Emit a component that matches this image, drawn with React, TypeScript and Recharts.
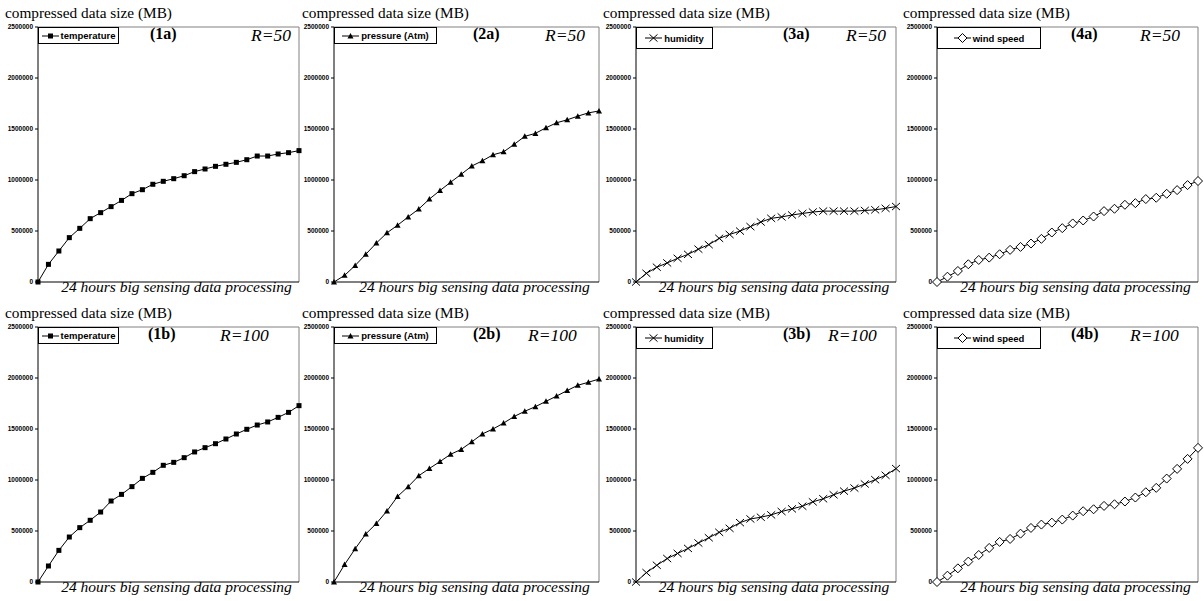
import { Legend, Line, LineChart, ReferenceLine, XAxis, YAxis } from 'recharts'

// hours on the x axis (26 samples per panel)
const HOURS = [0, 1, 2, 3, 4, 5, 6, 7, 8, 9, 10, 11, 12, 13, 14, 15, 16, 17, 18, 19, 20, 21, 22, 23, 24, 25]

// R = 50
const TEMP_R50 = [0, 173000, 304000, 435000, 526000, 621000, 680000, 739000, 800000, 866000, 905000, 958000, 987000, 1013000, 1042000, 1082000, 1108000, 1134000, 1154000, 1173000, 1199000, 1235000, 1235000, 1255000, 1268000, 1288000]
const PRESSURE_R50 = [0, 65000, 162000, 272000, 382000, 482000, 557000, 638000, 716000, 813000, 897000, 978000, 1056000, 1137000, 1188000, 1247000, 1276000, 1350000, 1428000, 1457000, 1512000, 1561000, 1590000, 1626000, 1658000, 1677000]
const HUMIDITY_R50 = [0, 85000, 145000, 187000, 232000, 271000, 322000, 366000, 428000, 466000, 499000, 543000, 588000, 624000, 638000, 657000, 672000, 686000, 695000, 695000, 695000, 695000, 701000, 708000, 722000, 740000]
const WIND_R50 = [0, 52000, 108000, 174000, 216000, 239000, 272000, 315000, 344000, 377000, 423000, 485000, 528000, 574000, 603000, 642000, 695000, 718000, 757000, 773000, 813000, 826000, 865000, 901000, 950000, 990000]

// R = 100
const TEMP_R100 = [0, 157000, 310000, 441000, 533000, 605000, 686000, 794000, 859000, 935000, 1016000, 1075000, 1144000, 1173000, 1219000, 1275000, 1317000, 1356000, 1402000, 1451000, 1497000, 1539000, 1569000, 1614000, 1663000, 1729000]
const PRESSURE_R100 = [0, 171000, 326000, 471000, 574000, 697000, 839000, 935000, 1042000, 1113000, 1181000, 1252000, 1300000, 1374000, 1452000, 1500000, 1558000, 1623000, 1674000, 1719000, 1771000, 1823000, 1877000, 1929000, 1958000, 1990000]
const HUMIDITY_R100 = [0, 92000, 164000, 230000, 280000, 329000, 382000, 434000, 487000, 526000, 582000, 618000, 635000, 658000, 691000, 717000, 743000, 786000, 816000, 855000, 891000, 921000, 961000, 1003000, 1046000, 1112000]
const WIND_R100 = [0, 62000, 134000, 200000, 265000, 334000, 393000, 422000, 474000, 530000, 563000, 582000, 612000, 651000, 694000, 713000, 746000, 762000, 789000, 828000, 880000, 923000, 1014000, 1109000, 1207000, 1315000]

const Y_TICKS = [0, 500000, 1000000, 1500000, 2000000, 2500000]
const Y_TITLE = 'compressed data size (MB)'
const X_TITLE = '24 hours big sensing data processing'

const SERIF = '"Liberation Serif", "Times New Roman", serif'
const SANS = '"Liberation Sans", Arial, sans-serif'
const FRAME_GRAY = '#808080'

const rows = HOURS.map((hour, i) => ({
  hour,
  temp50: TEMP_R50[i],
  pressure50: PRESSURE_R50[i],
  humidity50: HUMIDITY_R50[i],
  wind50: WIND_R50[i],
  temp100: TEMP_R100[i],
  pressure100: PRESSURE_R100[i],
  humidity100: HUMIDITY_R100[i],
  wind100: WIND_R100[i],
}))

type MarkerKind = 'square' | 'triangle' | 'cross' | 'diamond'

// column layout: left of panel, y-axis width, plot width, legend box size, title x
const COLS = [
  { left: 0, yW: 38, plotW: 261, legendW: 81, legendH: 17, titleX: 5 },
  { left: 300, yW: 34, plotW: 265, legendW: 103, legendH: 17, titleX: 302 },
  { left: 600, yW: 36, plotW: 260, legendW: 77, legendH: 22, titleX: 603 },
  { left: 900, yW: 37, plotW: 261, legendW: 104, legendH: 22, titleX: 903 },
]
const ROW_TOP = [0, 300]
const PLOT_TOP = 27
const PLOT_H = 255
const X_AXIS_H = 10

const PANELS: {
  dataKey: string
  name: string
  marker: MarkerKind
  tag: string
  r: string
  col: number
  row: number
  tagX: number
  rX: number
}[] = [
  { dataKey: 'temp50', name: 'temperature', marker: 'square', tag: '(1a)', r: 'R=50', col: 0, row: 0, tagX: 150, rX: 251 },
  { dataKey: 'pressure50', name: 'pressure (Atm)', marker: 'triangle', tag: '(2a)', r: 'R=50', col: 1, row: 0, tagX: 473, rX: 545 },
  { dataKey: 'humidity50', name: 'humidity', marker: 'cross', tag: '(3a)', r: 'R=50', col: 2, row: 0, tagX: 783, rX: 846 },
  { dataKey: 'wind50', name: 'wind speed', marker: 'diamond', tag: '(4a)', r: 'R=50', col: 3, row: 0, tagX: 1071, rX: 1140 },
  { dataKey: 'temp100', name: 'temperature', marker: 'square', tag: '(1b)', r: 'R=100', col: 0, row: 1, tagX: 148, rX: 220 },
  { dataKey: 'pressure100', name: 'pressure (Atm)', marker: 'triangle', tag: '(2b)', r: 'R=100', col: 1, row: 1, tagX: 473, rX: 528 },
  { dataKey: 'humidity100', name: 'humidity', marker: 'cross', tag: '(3b)', r: 'R=100', col: 2, row: 1, tagX: 783, rX: 828 },
  { dataKey: 'wind100', name: 'wind speed', marker: 'diamond', tag: '(4b)', r: 'R=100', col: 3, row: 1, tagX: 1071, rX: 1130 },
]

function markerShape(kind: MarkerKind, cx: number, cy: number) {
  switch (kind) {
    case 'square':
      return <rect x={cx - 2.5} y={cy - 2.5} width={5} height={5} fill="#000" />
    case 'triangle':
      return <polygon points={`${cx},${cy - 3} ${cx + 3},${cy + 2.5} ${cx - 3},${cy + 2.5}`} fill="#000" />
    case 'cross':
      return (
        <path
          d={`M${cx - 4},${cy - 3.6}L${cx + 4},${cy + 3.6}M${cx + 4},${cy - 3.6}L${cx - 4},${cy + 3.6}`}
          stroke="#000"
          strokeWidth={1}
          fill="none"
        />
      )
    default:
      return (
        <polygon
          points={`${cx},${cy - 4.5} ${cx + 4.5},${cy} ${cx},${cy + 4.5} ${cx - 4.5},${cy}`}
          fill="#fff"
          stroke="#000"
          strokeWidth={1}
        />
      )
  }
}

function LegendBox({ name, marker, width, height }: { name: string; marker: MarkerKind; width: number; height: number }) {
  return (
    <div
      style={{
        width,
        height,
        boxSizing: 'border-box',
        border: '1px solid #000',
        background: '#fff',
        display: 'flex',
        alignItems: 'center',
        justifyContent: 'center',
        gap: 2,
      }}
    >
      <svg width={17} height={10} style={{ display: 'block' }}>
        <line x1={0} y1={5} x2={17} y2={5} stroke="#000" strokeWidth={1} />
        {markerShape(marker, 8.5, 5)}
      </svg>
      <span style={{ fontFamily: SANS, fontWeight: 'bold', fontSize: 9.5, color: '#000', whiteSpace: 'nowrap' }}>{name}</span>
    </div>
  )
}

function XTitle(props: any) {
  const vb = props.viewBox || {}
  return (
    <text
      x={vb.x + vb.width / 2 + 8}
      y={vb.y + vb.height}
      textAnchor="middle"
      fontFamily={SERIF}
      fontStyle="italic"
      fontSize={15.5}
      fill="#000"
      style={{ fontFamily: SERIF, fontStyle: 'italic' }}
    >
      {X_TITLE}
    </text>
  )
}

function Panel({ p }: { p: (typeof PANELS)[number] }) {
  const c = COLS[p.col]
  return (
    <div style={{ position: 'absolute', left: c.left, top: ROW_TOP[p.row] }}>
      <LineChart
        width={c.yW + c.plotW + 6}
        height={PLOT_TOP + PLOT_H + X_AXIS_H + 5}
        data={rows}
        margin={{ top: PLOT_TOP, right: 6, bottom: 5, left: 0 }}
      >
        <XAxis
          dataKey="hour"
          type="number"
          domain={[0, 25]}
          tick={false}
          tickLine={false}
          axisLine={{ stroke: '#000' }}
          height={X_AXIS_H}
          label={{ value: X_TITLE, content: <XTitle /> }}
        />
        <YAxis
          domain={[0, 2500000]}
          ticks={Y_TICKS}
          interval={0}
          width={c.yW}
          tickSize={3}
          tickMargin={2}
          tick={{ fontSize: 6.5, fontWeight: 'bold', fontFamily: SANS, fill: '#000' }}
          tickLine={{ stroke: '#000' }}
          axisLine={{ stroke: '#000' }}
        />
        <ReferenceLine y={2500000} stroke={FRAME_GRAY} />
        <ReferenceLine x={25} stroke={FRAME_GRAY} />
        <Line
          type="linear"
          dataKey={p.dataKey}
          name={p.name}
          stroke="#000"
          strokeWidth={1}
          isAnimationActive={false}
          activeDot={false}
          dot={(props: any) => <g key={`d-${props.index}`}>{markerShape(p.marker, props.cx, props.cy)}</g>}
        />
        <Legend
          layout="horizontal"
          verticalAlign="middle"
          align="center"
          wrapperStyle={{ left: c.yW, top: PLOT_TOP, width: c.legendW, height: c.legendH }}
          content={() => <LegendBox name={p.name} marker={p.marker} width={c.legendW} height={c.legendH} />}
        />
      </LineChart>
    </div>
  )
}

export default function App() {
  return (
    <div style={{ position: 'absolute', left: 0, top: 0, width: 1204, height: 601, background: '#fff', overflow: 'hidden' }}>
      {PANELS.map((p) => (
        <Panel key={p.dataKey} p={p} />
      ))}
      <svg width={1204} height={601} style={{ position: 'absolute', left: 0, top: 0, pointerEvents: 'none' }}>
        {PANELS.map((p) => {
          const top = ROW_TOP[p.row]
          return (
            <g key={`t-${p.dataKey}`}>
              <text x={COLS[p.col].titleX} y={top + 18.3} fontFamily={SERIF} fontSize={15.3} fill="#000">
                {Y_TITLE}
              </text>
              <text x={p.tagX} y={top + 39} fontFamily={SERIF} fontWeight="bold" fontSize={16} fill="#000">
                {p.tag}
              </text>
              <text x={p.rX} y={top + 40.5} fontFamily={SERIF} fontStyle="italic" fontSize={17.5} fill="#000">
                {p.r}
              </text>
            </g>
          )
        })}
      </svg>
    </div>
  )
}
